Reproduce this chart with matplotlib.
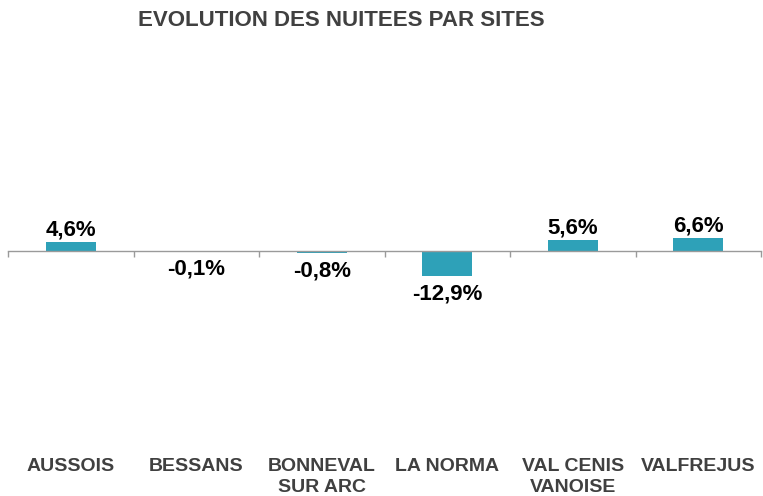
import matplotlib
matplotlib.use("Agg")
import matplotlib.pyplot as plt
import matplotlib.transforms as mtransforms

categories = ["AUSSOIS", "BESSANS", "BONNEVAL\nSUR ARC", "LA NORMA", "VAL CENIS\nVANOISE", "VALFREJUS"]
values = [4.6, -0.1, -0.8, -12.9, 5.6, 6.6]
value_labels = ["4,6%", "-0,1%", "-0,8%", "-12,9%", "5,6%", "6,6%"]
title = "EVOLUTION DES NUITEES PAR SITES"

plt.rcParams['font.family'] = ['Liberation Sans', 'DejaVu Sans']

W, H = 763, 496
fig = plt.figure(figsize=(W / 100, H / 100), dpi=100)
# axes in pixel coords: left 8, right 761, top 60, bottom 440
left, right, top, bottom = 8, 761, 60, 440
ax = fig.add_axes([left / W, 1 - bottom / H, (right - left) / W, (bottom - top) / H])

bar_color = "#2EA1B8"
x = list(range(len(categories)))
ax.bar(x, values, width=0.4, color=bar_color, zorder=2)

zero_px = 251
px_per_unit = 1.92
ymax = (zero_px - top) / px_per_unit
ymin = -(bottom - zero_px) / px_per_unit
ax.set_ylim(ymin, ymax)
ax.set_xlim(-0.5, len(categories) - 0.5)

for s in ["top", "right", "left"]:
    ax.spines[s].set_visible(False)
ax.spines["bottom"].set_position(("data", 0))
ax.spines["bottom"].set_color("#9A9A9A")
ax.spines["bottom"].set_linewidth(1.0)
ax.set_yticks([])
ax.set_xticks([i - 0.5 for i in range(len(categories) + 1)])
ax.set_xticklabels([])
ax.tick_params(axis="x", direction="out", length=4, width=1.0, color="#9A9A9A")

for xi, v, lab in zip(x, values, value_labels):
    if v >= 0:
        ax.annotate(lab, (xi, v), xytext=(0, 1), textcoords="offset points",
                    ha="center", va="bottom", fontsize=16, fontweight="bold", color="black")
    else:
        ax.annotate(lab, (xi, v), xytext=(0, -5.5), textcoords="offset points",
                    ha="center", va="top", fontsize=16, fontweight="bold", color="black")

trans = mtransforms.blended_transform_factory(ax.transData, fig.transFigure)
for xi, cat in zip(x, categories):
    ax.text(xi, 1 - 458 / H, cat, transform=trans, ha="center", va="top",
            fontsize=14, fontweight="bold", color="#404040", linespacing=1.3)

fig.text(341.5 / W, 1 - 21 / H, title, ha="center", va="center",
         fontsize=16, fontweight="bold", color="#404040")

fig.savefig("out.png", dpi=100)
